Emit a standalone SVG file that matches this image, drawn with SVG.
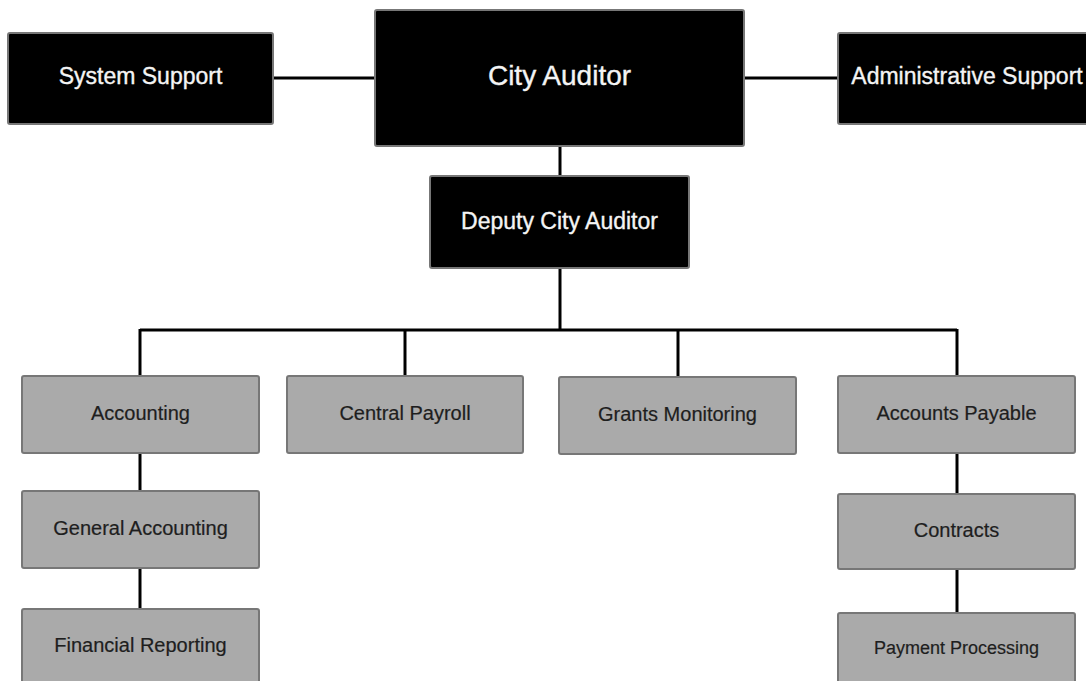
<svg xmlns="http://www.w3.org/2000/svg" width="1086" height="681" viewBox="0 0 1086 681">
<style>
.blk{fill:#000;stroke:#777;stroke-width:2}
.gry{fill:#aaa;stroke:#777;stroke-width:2}
.wt{fill:#f4f4f4;stroke:#f4f4f4;stroke-width:0.35;font-family:"Liberation Sans",Arial,sans-serif;text-anchor:middle;dominant-baseline:central}
.dt{fill:#1e1e1e;stroke:#1e1e1e;stroke-width:0.2;font-family:"Liberation Sans",Arial,sans-serif;text-anchor:middle;dominant-baseline:central;font-size:20px}
.ln{stroke:#000;stroke-width:3;fill:none}
</style>
<rect width="1086" height="681" fill="#fff"/>
<g id="connectors">
<line class="ln" x1="273" y1="78" x2="375" y2="78"/>
<line class="ln" x1="744" y1="78" x2="838" y2="78"/>
<line class="ln" x1="560" y1="146" x2="560" y2="176"/>
<line class="ln" x1="560" y1="268" x2="560" y2="330"/>
<line class="ln" x1="140" y1="330" x2="957" y2="330"/>
<line class="ln" x1="140" y1="329" x2="140" y2="376"/>
<line class="ln" x1="405" y1="330" x2="405" y2="376"/>
<line class="ln" x1="678" y1="330" x2="678" y2="377"/>
<line class="ln" x1="957" y1="329" x2="957" y2="376"/>
<line class="ln" x1="140" y1="453" x2="140" y2="491"/>
<line class="ln" x1="140" y1="568" x2="140" y2="609"/>
<line class="ln" x1="957" y1="453" x2="957" y2="494"/>
<line class="ln" x1="957" y1="569" x2="957" y2="613"/>
</g>
<g id="system-support"><rect class="blk" x="8" y="33" width="265" height="91" rx="2"/><text class="wt" x="140.5" y="76" style="font-size:23px">System Support</text></g>
<g id="city-auditor"><rect class="blk" x="375" y="10" width="369" height="136" rx="2"/><text class="wt" x="559.5" y="75" style="font-size:28px">City Auditor</text></g>
<g id="administrative-support"><rect class="blk" x="838" y="33" width="260" height="91" rx="2"/><text class="wt" x="967" y="76" style="font-size:23px">Administrative Support</text></g>
<g id="deputy-city-auditor"><rect class="blk" x="430" y="176" width="259" height="92" rx="2"/><text class="wt" x="559.5" y="221" style="font-size:23px">Deputy City Auditor</text></g>
<g id="accounting"><rect class="gry" x="22" y="376" width="237" height="77" rx="2"/><text class="dt" x="140.5" y="413">Accounting</text></g>
<g id="central-payroll"><rect class="gry" x="287" y="376" width="236" height="77" rx="2"/><text class="dt" x="405" y="413">Central Payroll</text></g>
<g id="grants-monitoring"><rect class="gry" x="559" y="377" width="237" height="77" rx="2"/><text class="dt" x="677.5" y="414">Grants Monitoring</text></g>
<g id="accounts-payable"><rect class="gry" x="838" y="376" width="237" height="77" rx="2"/><text class="dt" x="956.5" y="413">Accounts Payable</text></g>
<g id="general-accounting"><rect class="gry" x="22" y="491" width="237" height="77" rx="2"/><text class="dt" x="140.5" y="528">General Accounting</text></g>
<g id="financial-reporting"><rect class="gry" x="22" y="609" width="237" height="80" rx="2"/><text class="dt" x="140.5" y="645">Financial Reporting</text></g>
<g id="contracts"><rect class="gry" x="838" y="494" width="237" height="75" rx="2"/><text class="dt" x="956.5" y="530">Contracts</text></g>
<g id="payment-processing"><rect class="gry" x="838" y="613" width="237" height="76" rx="2"/><text class="dt" x="956.5" y="648" style="font-size:18px">Payment Processing</text></g>
</svg>
